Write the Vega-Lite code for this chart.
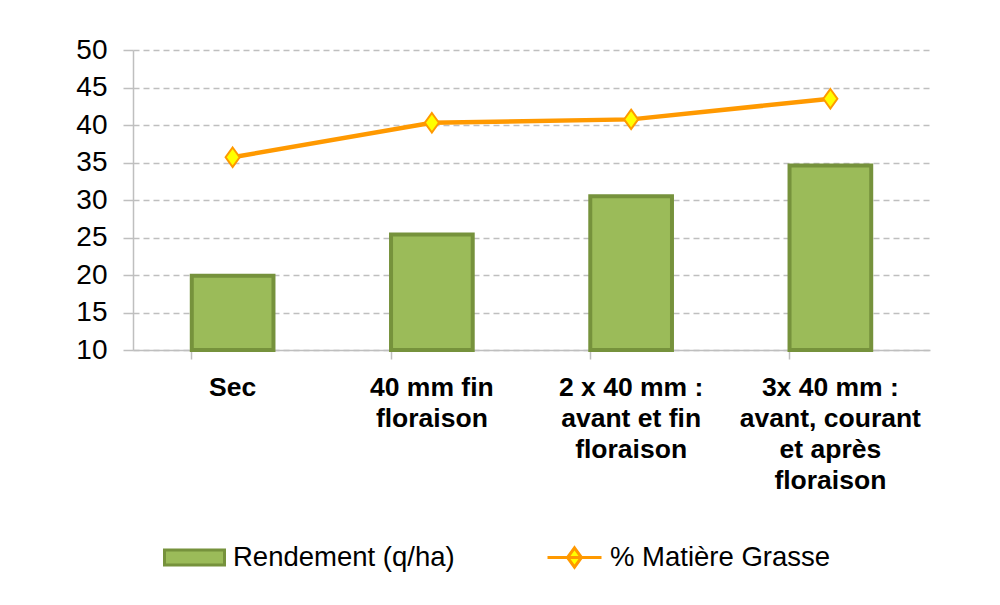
{
  "$schema": "https://vega.github.io/schema/vega-lite/v6.json",
  "width": 797,
  "height": 300,
  "autosize": "none",
  "padding": {"left": 133, "top": 50, "right": 70, "bottom": 255},
  "background": "white",
  "config": {
    "view": {"stroke": null},
    "font": "Liberation Sans",
    "axisY": {
      "labelOverlap": false,
      "labelFont": "Liberation Sans",
      "labelFontSize": 28,
      "labelColor": "#000000",
      "labelPadding": 16,
      "tickSize": 10,
      "tickColor": "#BFBFBF",
      "tickWidth": 1.5,
      "domainColor": "#BFBFBF",
      "domainWidth": 1.5,
      "grid": true,
      "gridColor": "#BFBFBF",
      "gridWidth": 1.5,
      "gridDash": [6, 4]
    }
  },
  "data": {
    "values": [
      {"cat": "Sec", "rendement": 19.9, "mg": 35.7, "s1": "Rendement (q/ha)", "s2": "% Matière Grasse"},
      {"cat": "40 mm fin|floraison", "rendement": 25.4, "mg": 40.3, "s1": "Rendement (q/ha)", "s2": "% Matière Grasse"},
      {"cat": "2 x 40 mm :|avant et fin|floraison", "rendement": 30.5, "mg": 40.75, "s1": "Rendement (q/ha)", "s2": "% Matière Grasse"},
      {"cat": "3x 40 mm  :|avant, courant|et après|floraison", "rendement": 34.6, "mg": 43.5, "s1": "Rendement (q/ha)", "s2": "% Matière Grasse"}
    ]
  },
  "encoding": {
    "x": {
      "field": "cat",
      "type": "nominal",
      "sort": null,
      "scale": {"paddingInner": 0.59, "paddingOuter": 0.295},
      "axis": {
        "title": null,
        "labelAngle": 0,
        "labelExpr": "split(datum.label, '|')",
        "labelFont": "Liberation Sans",
        "labelFontWeight": "bold",
        "labelFontSize": 26.5,
        "labelColor": "#000000",
        "labelLineHeight": 31,
        "labelPadding": 15,
        "labelBaseline": "top",
        "labelLimit": 0,
        "labelOverlap": false,
        "bandPosition": 0,
        "tickSize": 9,
        "tickColor": "#BFBFBF",
        "tickWidth": 1.5,
        "domainColor": "#BFBFBF",
        "domainWidth": 1.5,
        "grid": false
      }
    }
  },
  "layer": [
    {
      "mark": {"type": "bar", "stroke": "#76923C", "strokeWidth": 4},
      "encoding": {
        "y": {
          "field": "rendement",
          "type": "quantitative",
          "scale": {"domain": [10, 50], "zero": false, "nice": false},
          "axis": {"title": null, "values": [10, 15, 20, 25, 30, 35, 40, 45, 50]}
        },
        "y2": {"datum": 10},
        "fill": {
          "field": "s1",
          "type": "nominal",
          "scale": {"range": ["#9BBB59"]},
          "legend": {
            "title": null,
            "orient": "none",
            "legendX": 30,
            "legendY": 476,
            "symbolType": "M-1,-0.25H1V0.25H-1Z",
            "symbolSize": 3600,
            "symbolStrokeColor": "#76923C",
            "symbolStrokeWidth": 3,
            "labelFont": "Liberation Sans",
            "labelFontSize": 27.5,
            "labelColor": "#000000",
            "labelOffset": 7,
            "labelLimit": 0
          }
        }
      }
    },
    {
      "mark": {"type": "line", "strokeWidth": 4.5},
      "encoding": {
        "y": {"field": "mg", "type": "quantitative", "axis": {"title": null, "values": [10, 15, 20, 25, 30, 35, 40, 45, 50]}},
        "stroke": {
          "field": "s2",
          "type": "nominal",
          "scale": {"range": ["#FF9900"]},
          "legend": {
            "title": null,
            "orient": "none",
            "legendX": 413,
            "legendY": 479,
            "symbolType": "M-1,0H1M0,-0.36L0.26,0L0,0.36L-0.26,0Z",
            "symbolSize": 2916,
            "symbolStrokeWidth": 3,
            "symbolFillColor": "#FFFF00",
            "labelFont": "Liberation Sans",
            "labelFontSize": 27.5,
            "labelColor": "#000000",
            "labelOffset": 7,
            "labelLimit": 0
          }
        }
      }
    },
    {
      "mark": {"type": "point", "shape": "M0,-1L0.72,0L0,1L-0.72,0Z", "size": 380, "filled": true, "fill": "#FFFF00", "stroke": "#FF9900", "strokeWidth": 2, "opacity": 1},
      "encoding": {
        "y": {"field": "mg", "type": "quantitative", "axis": {"title": null, "values": [10, 15, 20, 25, 30, 35, 40, 45, 50]}}
      }
    }
  ]
}
